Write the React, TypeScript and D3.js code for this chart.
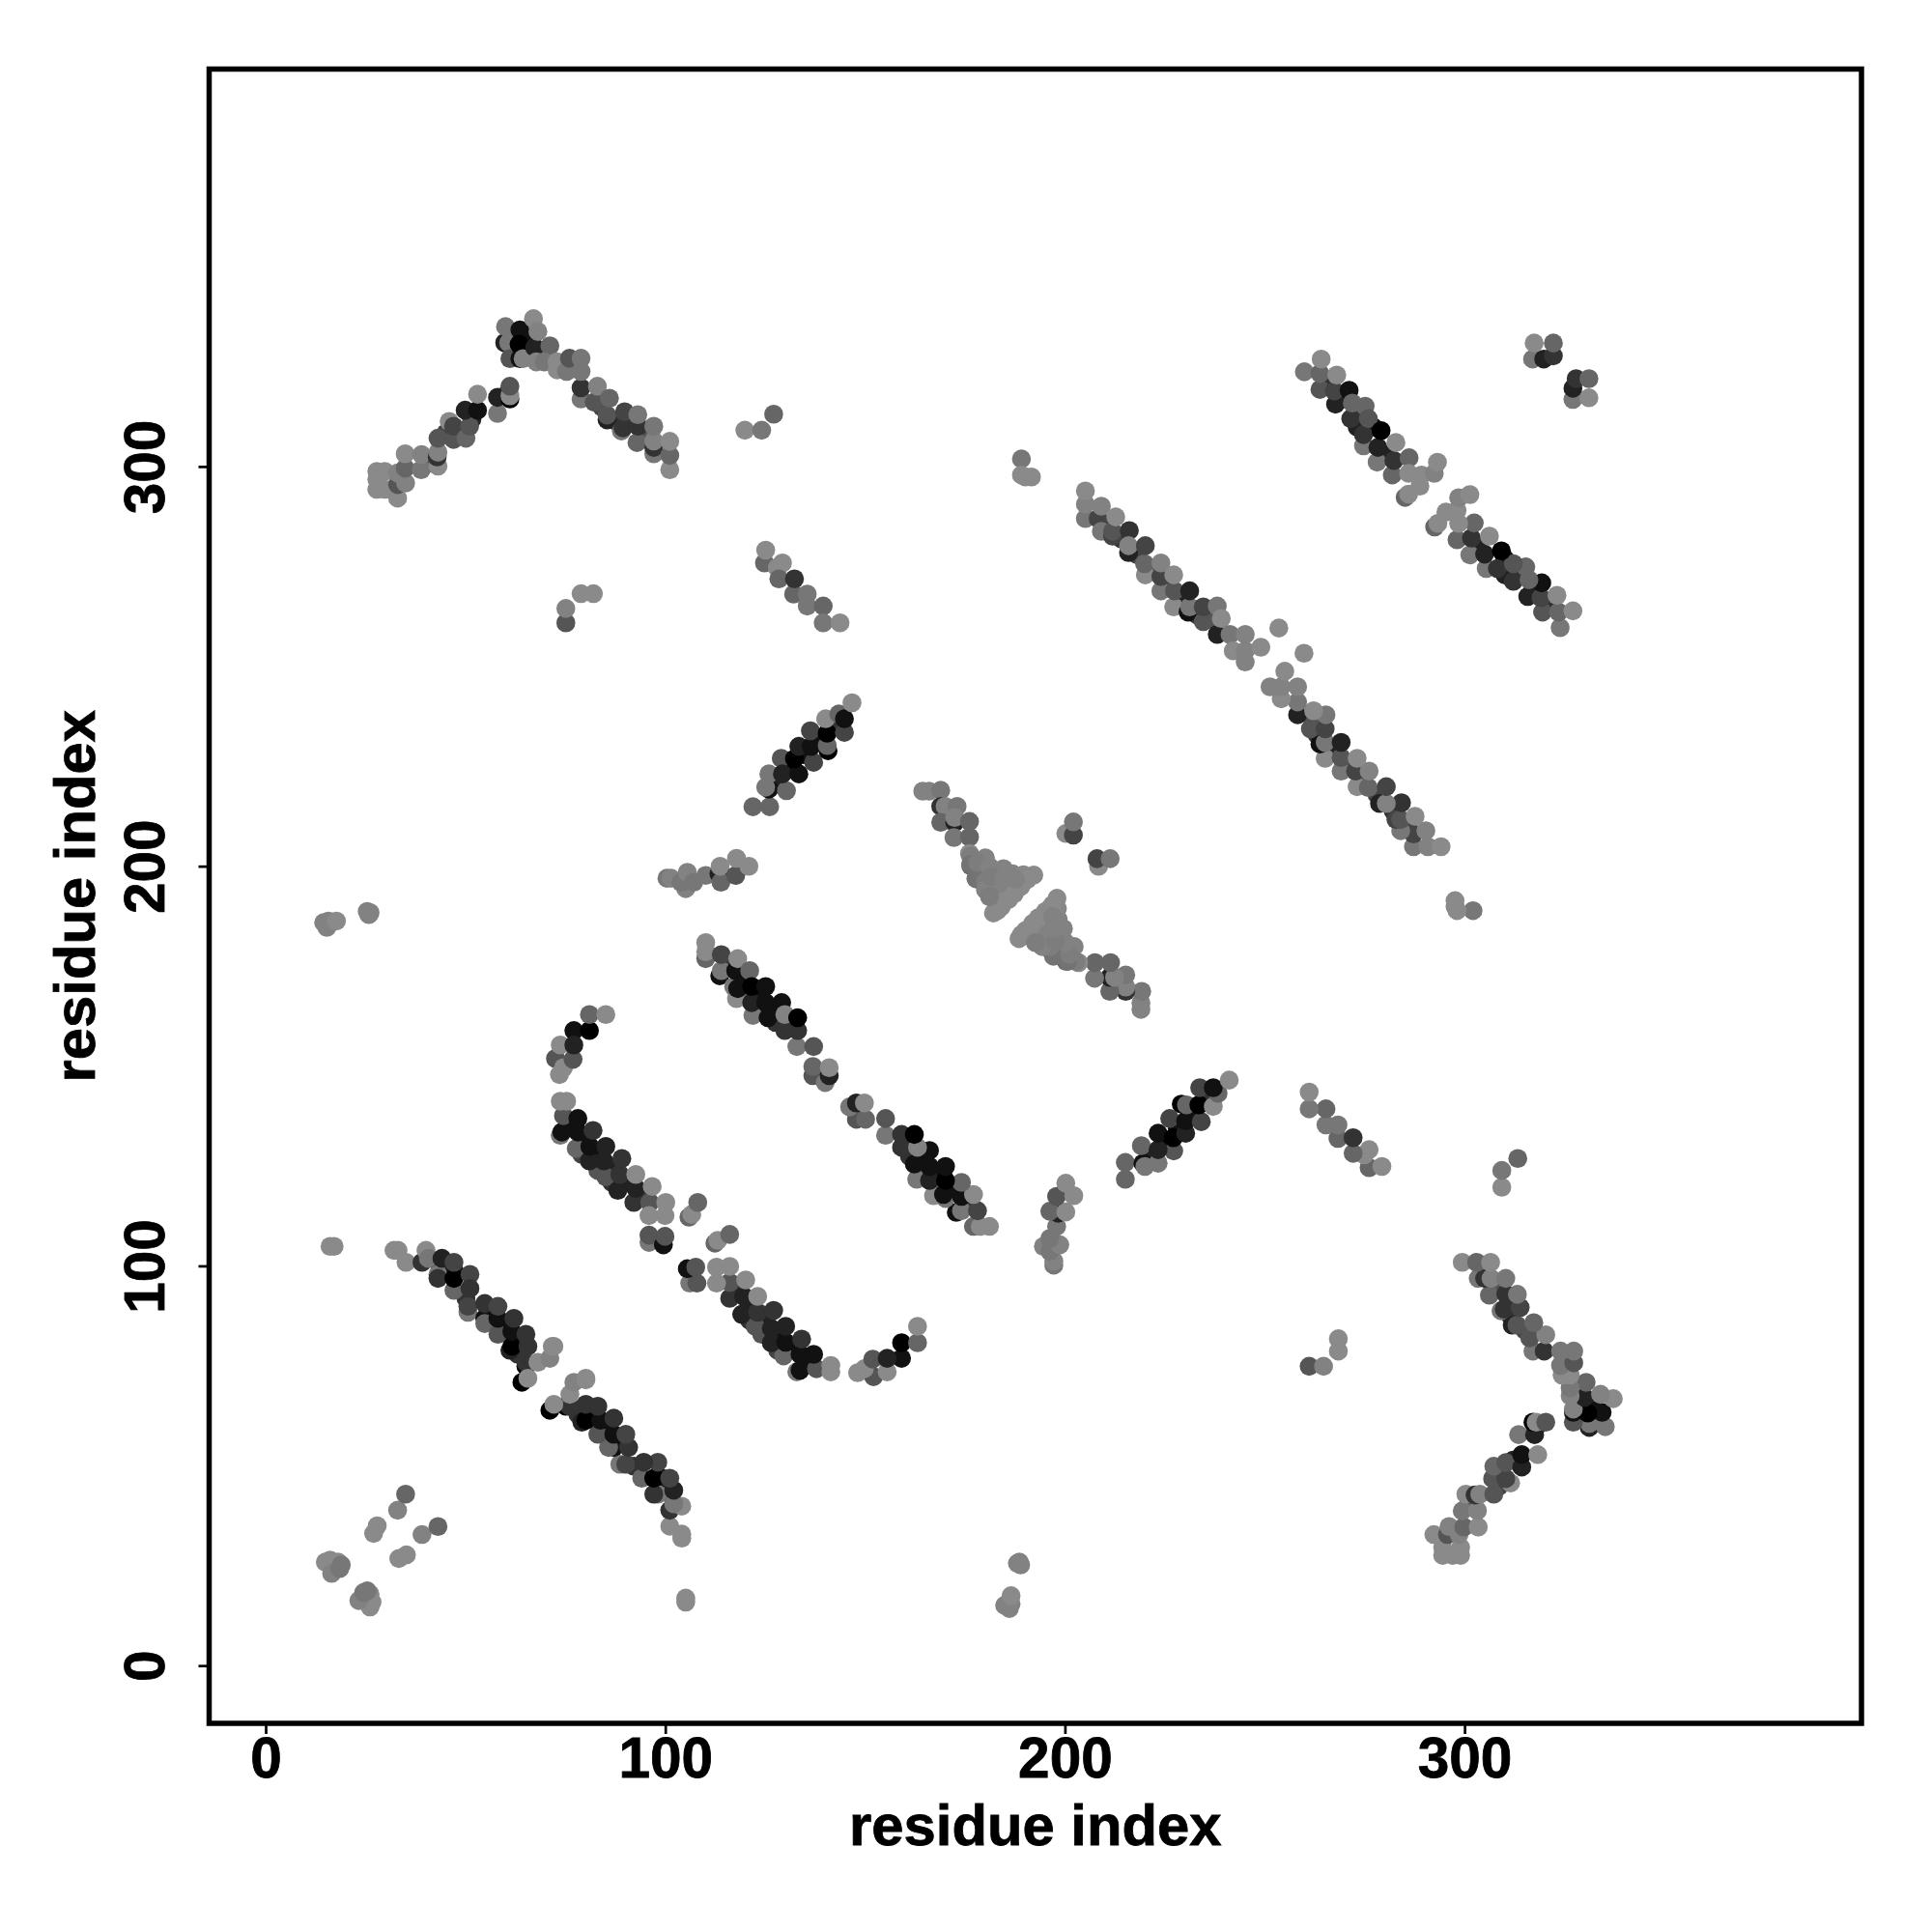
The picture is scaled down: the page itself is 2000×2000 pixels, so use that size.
import React from "react";
import * as d3 from "d3";

// each contact: [residue i, residue j, gray level]; the map is symmetric, j > i listed
type C = [number, number, number];

const hiddenUnder: C[] = [
  [43.5, 100, 34], [47, 99, 17], [50, 92, 51], [56, 88.5, 17], [60, 85, 17], [63.5, 81.5, 17], [63, 78, 51],
  [76, 135, 17], [80, 132, 17], [83, 128, 17], [87, 124.5, 34], [90.5, 121, 34], [94, 118, 51], [79, 128, 68], [83, 124, 85], [86.5, 121, 51],
  [115.5, 175.5, 51], [119.5, 171.5, 17], [123, 168, 17], [127, 164, 17], [131, 160.5, 17], [119.5, 167.5, 102], [123.5, 164, 34], [127.5, 161, 51],
  [127.5, 221, 34], [131, 225, 0], [134.5, 228, 17], [138.5, 231.5, 17], [142.5, 235.5, 51],
  [265.5, 321, 51], [269.5, 317, 34], [273.5, 314, 51], [277, 310, 17], [280.5, 303, 34], [273, 310, 34],
  [210, 285.5, 68], [214, 282, 51], [218, 278, 68], [222, 274, 68], [225.5, 271, 68], [229, 267, 34], [233, 263, 51], [236, 262, 85],
  [41, 301, 85], [45, 308.5, 68], [48.5, 309, 68], [51.5, 312, 34], [60, 318, 34],
  [62, 329, 0], [65, 332, 17], [84, 315, 68], [87.5, 311.5, 51], [91, 311.5, 51], [95, 308, 85],
];
const stripLowLeft: C[] = [
  [16, 105, 138], [17, 105, 138], [32, 104, 138], [33, 104, 138], [35, 101, 138],
];
const stripB: C[] = [
  [39, 101, 51], [40, 104, 138], [40.6, 102, 119], [43, 98, 119], [43, 97, 51], [47, 94, 102], [47, 97, 0], [44, 102, 34],
  [47, 101, 68], [51, 98, 68], [50.5, 88.5, 119], [50.5, 90, 68], [51, 94.5, 51], [54.7, 87, 17], [54.7, 85.7, 102], [58, 83, 85],
  [54.7, 90.7, 51], [58, 87, 17], [58, 90, 68], [61, 79, 34], [61.5, 80, 0], [61.5, 83.7, 17], [62, 87, 51],
  [65.5, 80, 51], [65, 83, 51], [65, 75, 0], [65, 76, 51], [64, 71, 0], [65.5, 72, 138], [68, 76, 138], [71, 77, 130], [71.6, 80, 138], [72, 80, 138],
];
const stripC: C[] = [
  [73.6, 132.8, 119], [74, 133.6, 17], [74.4, 137.7, 85], [73.6, 141.3, 138], [75.2, 141.3, 138],
  [77.6, 129.5, 102], [78, 133.6, 17], [78, 137, 17], [80.9, 126.4, 34], [81, 130, 17], [81.8, 134, 51],
  [85, 122.4, 85], [84.5, 126.4, 34], [85, 130, 34], [88, 119, 34], [88.5, 123, 51], [89, 127, 51],
  [92, 116, 51], [92.5, 119.5, 34], [92.5, 123, 138], [96, 116, 85], [96.6, 120, 138], [100, 116, 138],
  [95.8, 106, 119], [95.8, 107.8, 85], [99.4, 105.4, 17], [99.8, 107.5, 85], [95.8, 112.7, 138], [99.8, 112.7, 138],
  [105.8, 112.3, 102], [106.5, 113, 138], [108, 116, 102],
];
const curveD: C[] = [
  [72.4, 152, 85], [73.4, 148, 138], [74.4, 149.7, 138], [76.8, 151.8, 85], [73.6, 155.4, 138],
  [77, 159, 17], [77, 155.4, 34], [80.9, 159, 0], [80.9, 163, 102], [85, 163, 138],
];
const stripE: C[] = [
  [110, 177, 102], [110, 178.7, 138], [110, 181, 138], [113.5, 172.7, 17], [113.9, 174, 119], [113.9, 178, 68],
  [117.7, 167, 138], [117, 170, 119], [118, 169.5, 17], [117.5, 174, 17], [118, 177, 138], [121.8, 162.8, 119],
  [121.5, 166, 34], [121, 174, 102], [121.5, 170, 0], [125.6, 162.2, 17], [125, 166, 17], [125, 170, 17],
  [129.8, 159, 51], [129, 166, 17], [129.8, 163, 130], [132.8, 155, 119], [133, 159, 51], [133, 162.2, 0],
  [137, 155, 85], [136.8, 147.7, 85], [136.8, 150, 102], [139.9, 146, 119], [140.9, 147.7, 34], [140.9, 149.7, 138],
];
const stripH: C[] = [
  [121.8, 215, 102], [126, 215, 102], [125.8, 219.4, 17], [125, 219.9, 119], [125.8, 223.2, 119], [130.2, 219, 102],
  [128.9, 227.1, 85], [129.2, 223.2, 34], [133.3, 223.2, 17], [137, 226.1, 68], [132.2, 227, 0], [133.3, 230.1, 34],
  [136.4, 230.1, 17], [136.2, 234, 68], [140.6, 229, 0], [140.4, 230.3, 102], [140.4, 233.4, 0], [144.7, 233.6, 68],
  [140, 237, 138], [143.3, 238.2, 102], [144.7, 237, 17], [146.6, 241, 138],
];
const stripJ: C[] = [
  [100.3, 197.1, 119], [101.3, 197.1, 130], [105, 194.5, 130], [103.8, 196.1, 119], [105.4, 198.6, 130], [107, 196.1, 119],
  [110, 197.8, 119], [113.3, 198.2, 34], [113.8, 196.1, 102], [113.6, 200.1, 138], [117.5, 197.8, 85], [117.7, 202.1, 138], [120.8, 200.1, 138],
];
const shortA: C[] = [
  [124.7, 276, 102], [125, 279.2, 138], [127.9, 274.8, 138], [129.2, 276, 138], [128.3, 272, 102], [132, 268.2, 102],
  [132.2, 272, 51], [135.4, 268.2, 119], [135.4, 265.2, 119], [139.4, 265.2, 102], [139.4, 261, 119], [143.6, 261, 138],
];
const topLeftRise: C[] = [
  [27.7, 294.4, 138], [29.7, 294.4, 138], [27.7, 296.9, 138], [27.7, 298.9, 138], [29.7, 298.9, 138],
  [32.9, 292.2, 138], [32.9, 295.6, 85], [34.9, 296, 130], [32.9, 298.5, 130], [34.8, 299.7, 102], [34.8, 303.3, 138],
  [38.8, 299.3, 119], [38.9, 303.1, 130], [43, 300.2, 138], [42.8, 302.5, 51], [43, 303.7, 130], [43, 307.2, 85],
  [45.8, 311.4, 138], [46.9, 306.9, 85], [46.9, 310.2, 68], [50, 307.2, 102], [50.9, 310.2, 85], [49.8, 314.2, 34], [52.9, 314.2, 17], [52.9, 318.2, 138],
  [57.9, 313.4, 119], [57.9, 317.4, 34], [61, 317, 0], [61, 317.8, 138], [61, 320.2, 85],
];
const topLeftPeak: C[] = [
  [59.7, 331.1, 34], [59.9, 335.1, 119], [60.7, 331.1, 119], [61, 327.1, 85], [63.5, 327.1, 17], [63.5, 334.3, 17], [63.3, 330.7, 0],
  [64.3, 327.1, 130], [66.9, 337.1, 138], [67.2, 329.9, 34], [68, 333.9, 130], [67.6, 326.3, 130], [71, 330.3, 102], [69.6, 326.3, 119],
  [72.8, 324.3, 138], [72.8, 326.3, 138], [75.2, 323.9, 119], [75.9, 327.2, 85], [78.8, 317, 119], [78.8, 319.8, 51], [78.8, 323.9, 119], [78.8, 327.2, 119],
  [82.1, 316.2, 85], [82.9, 320.2, 130], [85.3, 311.8, 34], [85.3, 313, 85], [85.9, 317.2, 102], [88.9, 309, 119], [89.3, 309.8, 51], [89.7, 313.8, 68],
  [92.8, 306.1, 102], [93.1, 310.2, 51], [93, 313.1, 119], [97, 303.3, 119], [97, 304.9, 51], [97, 306.5, 130], [97, 310.2, 119],
  [101, 299.3, 138], [101, 302.9, 102], [101, 306.4, 138],
];
const stripF: C[] = [
  [205, 287.1, 119], [205, 290.7, 130], [205, 294, 138], [208.2, 287.1, 68], [209, 283.9, 119], [209, 290.2, 130],
  [211.8, 282.7, 68], [211.8, 283.9, 85], [212.6, 287.5, 138], [216, 284.1, 51], [215.8, 278.6, 34], [215.8, 280.3, 130],
  [220, 273, 138], [219.8, 275.8, 102], [220, 280.3, 68], [223.9, 269, 119], [223.9, 272.6, 68], [223.9, 276, 130],
  [227.1, 265, 138], [227.3, 269, 85], [227.1, 273, 138], [230.7, 263.7, 17], [231.1, 265, 119], [231.1, 269, 34],
  [234.5, 261.3, 85], [234.5, 265, 68], [238, 258.1, 34], [238, 265.2, 119], [239, 262.1, 138], [241.2, 258.1, 119],
  [242, 254, 138], [245, 251.2, 130], [245, 254, 130], [245, 258.1, 130], [248.9, 254.9, 138], [253.4, 259.7, 138],
];
const stripG: C[] = [
  [259.8, 323.8, 119], [263.7, 319.4, 85], [263.7, 323.4, 102], [264, 327, 138], [267.6, 315.7, 34], [267.3, 319, 68], [267.9, 323, 138],
  [271.4, 312.1, 51], [271, 319.2, 17], [271.8, 316, 102], [275, 315.2, 102], [274.6, 305.3, 119], [274.6, 308.1, 51], [275.8, 312.1, 85],
  [278, 301.2, 119], [278.2, 304.9, 34], [279, 309.1, 0], [281.8, 298, 102], [282.2, 301.6, 51], [282.7, 306.1, 138], [286, 302.3, 102],
  [285, 292.4, 102], [285.9, 293.2, 138], [285.9, 298.4, 138], [288.7, 295.2, 138], [289.1, 298, 138], [292.3, 298.4, 130], [293.1, 301.2, 138],
];
const cornerPair: C[] = [
  [316.9, 327, 119], [317.3, 331, 138], [319.7, 327, 34], [322.1, 327.8, 51], [322.1, 331, 102],
];
const helixTop: C[] = [
  [164.3, 218.9, 130], [165.9, 218.9, 130], [168.8, 219.1, 119], [168.8, 215.1, 51], [169.9, 215.1, 130], [172.9, 215.1, 119],
  [168.8, 211.1, 102], [172.3, 211.1, 34], [172.3, 212.3, 130], [176, 211.3, 102], [172.1, 207.3, 119], [176, 207.4, 102], [176, 203.3, 138],
];
const helixTriangle: C[] = [
  [178, 198.6, 68], [176.3, 200.2, 102], [178.8, 196.6, 85], [180.8, 195, 102],
  [176.3, 202.6, 125], [180, 202.2, 130], [176.3, 200.6, 115], [178.8, 199.4, 125], [182.8, 199, 130], [186.8, 198.2, 130], [192.1, 197.9, 138],
  [177.6, 197, 115], [180, 196.2, 125], [183.2, 196.2, 130], [186.4, 196.2, 130], [189.6, 196.2, 138], [180, 194.2, 130], [182.8, 193, 130],
  [185.6, 193.3, 130], [188, 194.6, 138], [182.8, 190.5, 130], [184.8, 191.3, 138], [182, 188.4, 138],
  [178, 201, 125], [181, 200, 130], [184.5, 199.5, 130], [189.5, 198, 135], [190.5, 196.8, 138], [188.8, 195, 138],
  [187.2, 193.2, 138], [185.8, 191.8, 138], [184, 190, 138], [183, 189, 138], [181.5, 197.5, 125], [184.5, 197, 130], [187.5, 196.8, 130], [181, 192.5, 125],
];
const scattered: C[] = [
  [14.8, 26, 138], [16, 26.5, 138], [18, 26, 138], [16.4, 23.2, 130], [18.4, 24.4, 119], [18.8, 25.3, 119],
  [26.9, 33.2, 138], [27.8, 35.1, 138], [32.9, 39, 130], [34.9, 43, 102],
  [14.4, 186, 130], [15.2, 184.8, 130], [15.6, 186.4, 130], [17.6, 186.4, 138], [25.3, 188.8, 130], [25.7, 188, 130], [26, 188.5, 130],
  [75, 261, 85], [75, 264.6, 130], [78.8, 268.3, 138], [81.9, 268.3, 138],
  [119.8, 309.2, 138], [124, 309.2, 119], [127, 313.2, 102],
  [189, 302, 119], [189, 298, 138], [190, 297.5, 138], [191.5, 297.5, 138],
  [200.1, 208.3, 138], [202, 207.9, 68], [202, 211.2, 119],
];

const groups: C[][] = [
  hiddenUnder, stripLowLeft, stripB, stripC, curveD, stripE, stripH, stripJ, shortA, topLeftRise, topLeftPeak,
  stripF, stripG, cornerPair, helixTop, helixTriangle, scattered,
];
const tickValues = [0, 100, 200, 300];
const axisTitle = "residue index";

const x = d3.scaleLinear().domain([0, 300]).range([275.5, 1516.6]);
const y = d3.scaleLinear().domain([0, 300]).range([1724.7, 483.4]);
const box = { left: 216.5, right: 1927, top: 71.5, bottom: 1784 };
const FONT = "'Liberation Sans', Arial, sans-serif";
const DOT_R = 9.8;

export default function App() {
  const contacts = groups.flat();
  return (
    <svg width={2000} height={2000} style={{ position: "absolute", left: 0, top: 0, background: "#fff" }}>
      {contacts.map(([i, j, g], k) => (
        <g key={k} fill={d3.rgb(g, g, g).formatHex()}>
          <circle cx={x(i)} cy={y(j)} r={DOT_R} />
          <circle cx={x(j)} cy={y(i)} r={DOT_R} />
        </g>
      ))}
      <rect x={box.left} y={box.top} width={box.right - box.left} height={box.bottom - box.top} fill="none" stroke="#000" strokeWidth={5.5} />
      {tickValues.map((t) => (
        <g key={t}>
          <line x1={x(t)} x2={x(t)} y1={box.bottom} y2={box.bottom + 11} stroke="#000" strokeWidth={2.7} />
          <text x={x(t)} y={1840} textAnchor="middle" fontFamily={FONT} fontWeight="bold" fontSize={58.5} stroke="#000" strokeWidth={0.8}>{t}</text>
          <line x1={box.left} x2={box.left - 11} y1={y(t)} y2={y(t)} stroke="#000" strokeWidth={2.7} />
          <text transform={`translate(170,${y(t)}) rotate(-90)`} textAnchor="middle" fontFamily={FONT} fontWeight="bold" fontSize={58.5} stroke="#000" strokeWidth={0.8}>{t}</text>
        </g>
      ))}
      <text x={(box.left + box.right) / 2} y={1910} textAnchor="middle" fontFamily={FONT} fontWeight="bold" fontSize={59.8} stroke="#000" strokeWidth={0.8}>{axisTitle}</text>
      <text transform={`translate(98,${(box.top + box.bottom) / 2}) rotate(-90)`} textAnchor="middle" fontFamily={FONT} fontWeight="bold" fontSize={59.8} stroke="#000" strokeWidth={0.8}>{axisTitle}</text>
    </svg>
  );
}
